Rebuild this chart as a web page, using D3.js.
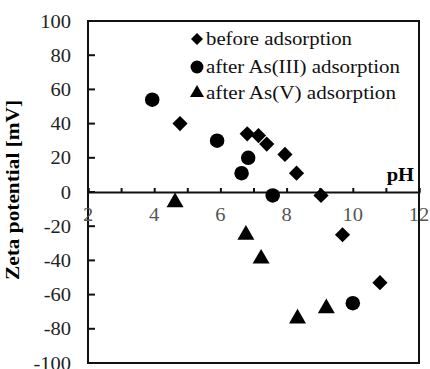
<!DOCTYPE html>
<html>
<head>
<meta charset="utf-8">
<script src="https://cdn.jsdelivr.net/npm/d3@7"></script>
<style>
  body { margin: 0; background: #fff; }
  text { font-family: "Liberation Serif", "Times New Roman", serif; }
</style>
</head>
<body>
<div id="chart"></div>
<script>
// data
let beforePH   = [4.78, 6.81, 7.15, 7.40, 7.95, 8.30, 9.04, 9.69, 10.82];
let beforeZeta = [40, 34, 33, 28, 22, 11, -2, -25, -53];
let as3PH   = [3.94, 5.90, 6.64, 6.84, 7.58, 10.00];
let as3Zeta = [54, 30, 11, 20, -2, -65];
let as5PH   = [4.63, 6.77, 7.23, 8.33, 9.20];
let as5Zeta = [-6, -25, -39, -74, -68];
let seriesNames = ["before adsorption", "after As(III) adsorption", "after As(V) adsorption"];
let xTicks = [2, 4, 6, 8, 10, 12];
let yTicks = [-100, -80, -60, -40, -20, 0, 20, 40, 60, 80, 100];

let width = 430, height = 369;
let svg = d3.select("#chart").append("svg")
    .attr("width", width)
    .attr("height", height);

let x = d3.scaleLinear().domain([2, 12]).range([88, 419]);
let y = d3.scaleLinear().domain([-100, 100]).range([363, 21]);

// symbols
let shapes = [
    {type: d3.symbolSquare, rot: 45, size: 115, legSize: 72},
    {type: d3.symbolCircle, rot: 0, size: 165, legSize: 130},
    {type: d3.symbolTriangle, rot: 0, size: 125, legSize: 85}
];

// text is a bit wider than plain Times in the picture
function label(x0, y0, str, size, anchor, fill, bold) {
    svg.append("text")
        .attr("transform", "translate(" + x0 + "," + y0 + ") scale(1.08,1)")
        .attr("text-anchor", anchor)
        .attr("font-family", "Liberation Serif")
        .attr("font-size", size)
        .attr("font-weight", bold ? "bold" : "normal")
        .attr("fill", fill)
        .text(str);
}

// plot frame
svg.append("rect")
    .attr("x", x(2)).attr("y", y(100))
    .attr("width", x(12) - x(2)).attr("height", y(-100) - y(100))
    .attr("fill", "none").attr("stroke", "#111").attr("stroke-width", 2);

// y axis: inner ticks, labels on left
svg.selectAll(".ytick")
    .data(yTicks.filter(d => d > -100 && d < 100))
    .enter().append("line")
    .attr("x1", x(2)).attr("x2", x(2) + 7)
    .attr("y1", d => y(d)).attr("y2", d => y(d))
    .attr("stroke", "#111").attr("stroke-width", 2);
yTicks.forEach(d => label(71, y(d) + 6.5, d, 19, "end", "#222", false));

// x axis along zero line, ticks upward
let xAxis = d3.axisTop(x).ticks(10).tickSize(4).tickFormat("");
let gx = svg.append("g").attr("transform", "translate(0," + y(0) + ")").call(xAxis);
gx.select(".domain").attr("stroke", "#111").attr("stroke-width", 2);
gx.selectAll(".tick line").attr("stroke", "#111").attr("stroke-width", 2);
xTicks.forEach(d => label(x(d), y(0) + 29, d, 19, "middle", "#555", false));

// axis titles
label(414, y(0) - 11, "pH", 19, "end", "#000", true);
svg.append("text")
    .attr("transform", "translate(19," + (y(0) - 2) + ") rotate(-90)")
    .attr("text-anchor", "middle")
    .attr("font-family", "Liberation Serif")
    .attr("font-size", 19).attr("font-weight", "bold")
    .attr("textLength", 180).attr("lengthAdjust", "spacingAndGlyphs")
    .text("Zeta potential [mV]");

// points
let series = [
    {ph: beforePH, z: beforeZeta},
    {ph: as3PH, z: as3Zeta},
    {ph: as5PH, z: as5Zeta}
];
series.forEach((s, i) => {
    let sym = d3.symbol().type(shapes[i].type).size(shapes[i].size);
    svg.selectAll(".pt" + i)
        .data(d3.zip(s.ph, s.z))
        .enter().append("path")
        .attr("d", sym)
        .attr("transform", d => "translate(" + x(d[0]) + "," + y(d[1]) + ") rotate(" + shapes[i].rot + ")")
        .attr("fill", "#000");
});

// legend
let legY = [39, 67, 93];
let legLen = [146, 194, 190];
seriesNames.forEach((name, i) => {
    let sym = d3.symbol().type(shapes[i].type).size(shapes[i].legSize);
    svg.append("path")
        .attr("d", sym)
        .attr("transform", "translate(197," + legY[i] + ") rotate(" + shapes[i].rot + ")")
        .attr("fill", "#000");
    svg.append("text")
        .attr("x", 206).attr("y", legY[i] + 6)
        .attr("font-family", "Liberation Serif")
        .attr("font-size", 19)
        .attr("textLength", legLen[i]).attr("lengthAdjust", "spacingAndGlyphs")
        .attr("fill", "#111")
        .text(name);
});
</script>
</body>
</html>
